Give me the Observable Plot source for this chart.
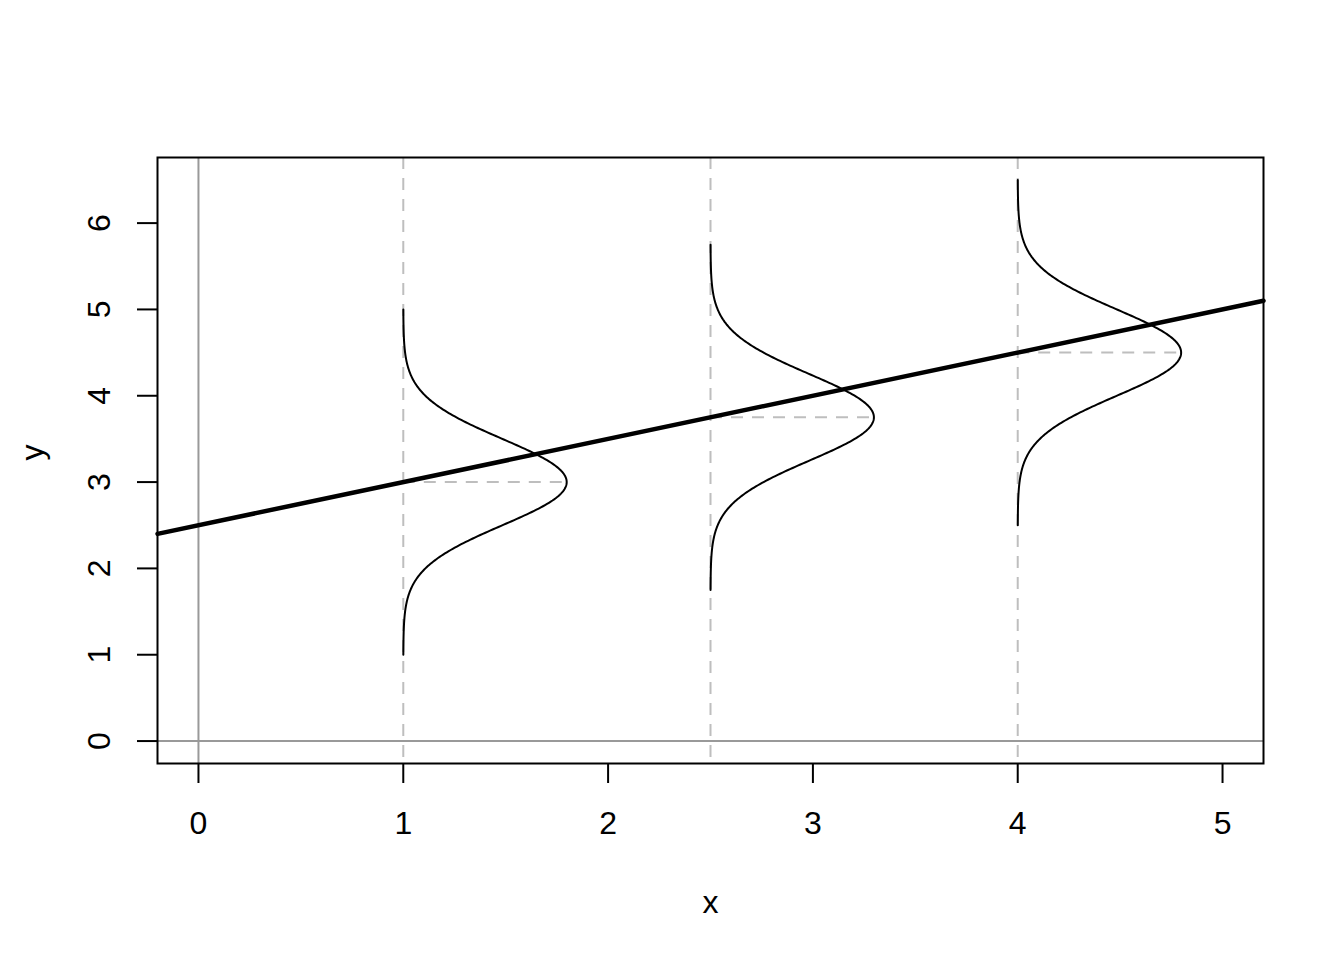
<!DOCTYPE html>
<html>
<head>
<meta charset="utf-8">
<script src="https://cdn.jsdelivr.net/npm/d3@7"></script>
<script src="https://cdn.jsdelivr.net/npm/@observablehq/plot@0.6"></script>
<style>
  html, body { margin: 0; padding: 0; background: #fff; }
  svg { font-family: "Liberation Sans", Arial, Helvetica, sans-serif; }
</style>
</head>
<body>
<div id="chart"></div>
<script>
// ---- data ----
const xTicks = [0, 1, 2, 3, 4, 5];
const yTicks = [0, 1, 2, 3, 4, 5, 6];
const intercept = 2.5;
const slope = 0.5;
const centers = [1, 2.5, 4];          // x positions of the conditional densities
const means = [3, 3.75, 4.5];         // conditional means on the regression line
const sd = 0.5;                       // error standard deviation
const xDomain = [-0.2, 5.2];
const yDomain = [-0.26, 6.76];

// normal density curves drawn sideways
const dnorm = (y, m, s) => Math.exp(-0.5 * ((y - m) / s) ** 2) / (s * Math.sqrt(2 * Math.PI));
const curves = [];
centers.forEach((c, i) => {
  const m = means[i];
  const n = 300;
  for (let k = 0; k <= n; k++) {
    const y = m - 4 * sd + (8 * sd * k) / n;
    curves.push({group: i, x: c + dnorm(y, m, sd), y});
  }
});
const peaks = centers.map((c, i) => ({x1: c, x2: c + dnorm(means[i], means[i], sd), y: means[i]}));
const regLine = xDomain.map(x => ({x, y: intercept + slope * x}));

const chart = Plot.plot({
  width: 1344,
  height: 960,
  marginLeft: 157,
  marginRight: 81,
  marginTop: 157,
  marginBottom: 197,
  style: {fontFamily: '"Liberation Sans", Arial, Helvetica, sans-serif', background: "#fff"},
  x: {domain: xDomain},
  y: {domain: yDomain},
  marks: [
    Plot.ruleX([0], {stroke: "#999999", strokeWidth: 2}),
    Plot.ruleY([0], {stroke: "#999999", strokeWidth: 2}),
    Plot.ruleX(centers, {stroke: "#bebebe", strokeWidth: 2, strokeDasharray: "12,9"}),
    Plot.ruleY(peaks, {x1: "x1", x2: "x2", y: "y", stroke: "#bebebe", strokeWidth: 2, strokeDasharray: "12,9"}),
    Plot.line(curves, {x: "x", y: "y", z: "group", stroke: "black", strokeWidth: 2, curve: "linear"}),
    Plot.line(regLine, {x: "x", y: "y", stroke: "black", strokeWidth: 4.5}),
    Plot.frame({stroke: "black", strokeWidth: 2}),
    Plot.axisX({ticks: xTicks, tickSize: 20, tickPadding: 28, fontSize: 32, strokeWidth: 2, label: null, tickFormat: d => String(d)}),
    Plot.axisY({ticks: yTicks, tickSize: 20, tickFormat: () => "", strokeWidth: 2, label: null}),
    Plot.text(yTicks, {y: d => d, text: d => String(d), frameAnchor: "left", dx: -58, rotate: -90, textAnchor: "middle", lineAnchor: "middle", fontSize: 32, fill: "black"}),
    Plot.text(["x"], {frameAnchor: "bottom", dy: 139, text: d => d, lineAnchor: "middle", fontSize: 32, fill: "black"}),
    Plot.text(["y"], {frameAnchor: "left", dx: -125, rotate: -90, text: d => d, lineAnchor: "middle", fontSize: 32, fill: "black"})
  ]
});
document.getElementById("chart").appendChild(chart);
</script>
</body>
</html>
